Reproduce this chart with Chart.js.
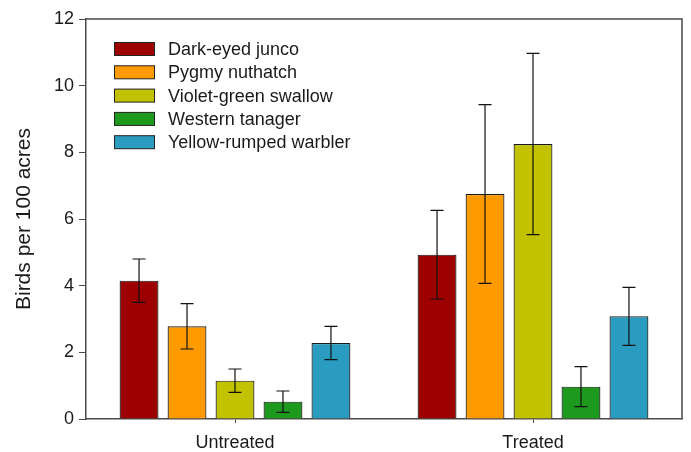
<!DOCTYPE html>
<html>
<head>
<meta charset="utf-8">
<script src="https://cdn.jsdelivr.net/npm/chart.js@4"></script>
<style>
  body{margin:0;background:#fff;}
  #c{display:block;}
</style>
</head>
<body>
<canvas id="c" width="691" height="452"></canvas>
<script>
const groups=["Untreated","Treated"];
const species=["Dark-eyed junco","Pygmy nuthatch","Violet-green swallow","Western tanager","Yellow-rumped warbler"];
const colors=["#9c0000","#ff9a00","#c2c200","#1d9a1d","#2a9cc0"];

// mean per species: [Untreated, Treated]
const junco=[4.15,4.93];
const nuthatch=[2.78,6.75];
const swallow=[1.15,8.25];
const tanager=[0.52,0.97];
const warbler=[2.28,3.08];
// error (+/-) per species
const juncoErr=[0.65,1.33];
const nuthatchErr=[0.68,2.68];
const swallowErr=[0.35,2.72];
const tanagerErr=[0.32,0.6];
const warblerErr=[0.5,0.87];

const yTicks=[0,2,4,6,8,10,12];

const means=[junco,nuthatch,swallow,tanager,warbler];
const errs=[juncoErr,nuthatchErr,swallowErr,tanagerErr,warblerErr];

const FONT="'Liberation Sans', Arial, sans-serif";
const AXIS="#4a4a4a";

// error bars drawn from the data through the y scale
const errorBars={
  id:"errorBars",
  afterDatasetsDraw(chart){
    const ctx=chart.ctx, y=chart.scales.y;
    ctx.save();
    ctx.strokeStyle="#111";
    ctx.lineWidth=1.2;
    chart.data.datasets.forEach((ds,i)=>{
      const meta=chart.getDatasetMeta(i);
      meta.data.forEach((bar,j)=>{
        const v=ds.data[j], e=errs[i][j];
        const top=y.getPixelForValue(v+e), bot=y.getPixelForValue(v-e);
        ctx.beginPath();
        ctx.moveTo(bar.x,top);ctx.lineTo(bar.x,bot);
        ctx.moveTo(bar.x-6.5,top);ctx.lineTo(bar.x+6.5,top);
        ctx.moveTo(bar.x-6.5,bot);ctx.lineTo(bar.x+6.5,bot);
        ctx.stroke();
      });
    });
    ctx.restore();
  }
};

// frame on top/right and legend inside the plot
const frameLegend={
  id:"frameLegend",
  afterDraw(chart){
    const ctx=chart.ctx, a=chart.chartArea;
    ctx.save();
    ctx.strokeStyle=AXIS;
    ctx.lineWidth=1.5;
    ctx.beginPath();
    ctx.moveTo(a.left,a.top);ctx.lineTo(a.right,a.top);ctx.lineTo(a.right,a.bottom);
    ctx.stroke();

    ctx.font="18px "+FONT;
    ctx.textBaseline="middle";
    chart.data.datasets.forEach((ds,i)=>{
      const yy=a.top+30+i*23.3;
      const x0=a.left+28;
      ctx.fillStyle=ds.backgroundColor;
      ctx.fillRect(x0,yy-6.5,41,13);
      ctx.strokeStyle="#222";
      ctx.lineWidth=1;
      ctx.strokeRect(x0+0.5,yy-6.5,40,13);
      ctx.fillStyle="#1a1a1a";
      ctx.fillText(ds.label,x0+54,yy+1);
    });
    ctx.restore();
  }
};

new Chart(document.getElementById("c"),{
  type:"bar",
  data:{
    labels:groups,
    datasets:species.map((s,i)=>({
      label:s,
      data:means[i],
      backgroundColor:colors[i],
      borderColor:"#1a1a1a",
      borderWidth:1.2,
      categoryPercentage:0.805,
      barPercentage:0.81
    }))
  },
  options:{
    responsive:false,
    animation:false,
    layout:{padding:{top:19,right:9,left:0,bottom:0}},
    plugins:{legend:{display:false},tooltip:{enabled:false}},
    scales:{
      x:{
        grid:{offset:false,drawOnChartArea:false,drawTicks:true,tickLength:4,color:AXIS},
        border:{display:true,color:AXIS,width:1.5},
        ticks:{color:"#1a1a1a",font:{family:FONT,size:18},padding:9},
        afterFit(s){s.height=33;}
      },
      y:{
        min:0,max:12,
        afterBuildTicks(s){s.ticks=yTicks.map(v=>({value:v}));},
        grid:{drawOnChartArea:false,drawTicks:true,tickLength:7,color:AXIS},
        border:{display:true,color:AXIS,width:1.5},
        ticks:{color:"#1a1a1a",font:{family:FONT,size:18},padding:5},
        title:{display:true,text:"Birds per 100 acres",color:"#1a1a1a",font:{family:FONT,size:21},padding:{top:12,bottom:0}},
        afterFit(s){s.width=86;}
      }
    }
  },
  plugins:[errorBars,frameLegend]
});
</script>
</body>
</html>
